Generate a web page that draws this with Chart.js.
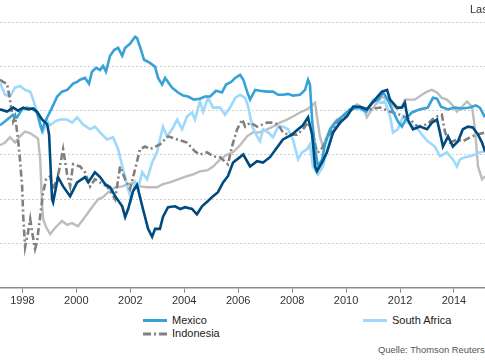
<!DOCTYPE html>
<html>
<head>
<meta charset="utf-8">
<script src="https://cdn.jsdelivr.net/npm/chart.js@4.4.1/dist/chart.umd.min.js"></script>
<style>
  html, body { margin: 0; padding: 0; background: #fff; overflow: hidden; width: 485px; height: 360px; }
  body { position: relative; font-family: "Liberation Sans", Arial, sans-serif; color: #333; }
  #wrap { position: absolute; left: 0; top: 0; width: 485px; height: 310px; }
  .txt { position: absolute; white-space: nowrap; }
  .legend-item { position: absolute; width: 110px; height: 13px; font-size: 11px; color: #222; line-height: 13px; white-space: nowrap; }
  .swatch { position: absolute; width: 24px; height: 0; border-top: 3px solid; }
</style>
</head>
<body>
<div id="wrap"><canvas id="chart"></canvas></div>

<div class="txt" style="left:470px; top:3px; font-size:11px; color:#333;">Las</div>

<div class="legend-item" style="left:143px; top:314px;">
  <span class="swatch" style="left:0; top:5px; border-color:#36a2d8;"></span>
  <span style="position:absolute; left:29px; top:0;">Mexico</span>
</div>
<div class="legend-item" style="left:143px; top:327px;">
  <canvas id="dashSwatch" width="24" height="4" style="position:absolute; left:0; top:5px;"></canvas>
  <span style="position:absolute; left:29px; top:0;">Indonesia</span>
</div>
<div class="legend-item" style="left:363px; top:314px;">
  <span class="swatch" style="left:0; top:5px; border-color:#9ed8fb;"></span>
  <span style="position:absolute; left:29px; top:0;">South Africa</span>
</div>

<div class="txt" style="left:378px; top:344px; font-size:9.4px; color:#555;">Quelle: Thomson Reuters</div>

<script>
// Real effective exchange rates (index), points as [decimal year, value]
const mexico = [
  [1997.17, 96.7], [1997.36, 97.6], [1997.66, 99.1], [1997.80, 98.5], [1997.99, 100.3],
  [1998.17, 100.7], [1998.40, 100.3], [1998.54, 99.6], [1998.73, 95.5], [1998.80, 96.9],
  [1998.92, 98.5], [1999.10, 100.7], [1999.29, 103.2], [1999.47, 104.3], [1999.66, 104.7],
  [1999.77, 105.4], [1999.88, 106.1], [2000.03, 106.5], [2000.14, 107.0], [2000.32, 107.4],
  [2000.47, 106.1], [2000.58, 108.8], [2000.73, 109.7], [2000.88, 109.2], [2000.99, 110.1],
  [2001.10, 108.8], [2001.25, 112.4], [2001.40, 113.7], [2001.55, 114.2], [2001.70, 112.4],
  [2001.81, 114.2], [2001.99, 115.1], [2002.18, 116.7], [2002.25, 116.4], [2002.40, 113.7],
  [2002.51, 111.5], [2002.73, 110.8], [2002.92, 109.9], [2003.03, 107.4], [2003.18, 105.9],
  [2003.29, 107.4], [2003.40, 106.5], [2003.55, 105.2], [2003.77, 104.1], [2003.96, 103.4],
  [2004.14, 103.2], [2004.36, 102.5], [2004.58, 102.7], [2004.77, 103.2], [2004.96, 103.2],
  [2005.18, 104.5], [2005.40, 104.1], [2005.55, 105.9], [2005.74, 106.5], [2005.89, 107.4],
  [2006.07, 108.1], [2006.19, 107.0], [2006.33, 104.3], [2006.44, 102.5], [2006.63, 104.7],
  [2006.81, 104.5], [2007.07, 104.3], [2007.29, 104.3], [2007.48, 103.6], [2007.66, 103.6],
  [2007.85, 103.8], [2008.03, 103.4], [2008.29, 103.6], [2008.48, 104.7], [2008.59, 107.0],
  [2008.66, 105.9], [2008.74, 98.0], [2008.85, 91.3], [2008.96, 87.4], [2009.11, 89.0],
  [2009.22, 92.4], [2009.40, 95.8], [2009.59, 97.3], [2009.85, 98.7], [2010.14, 100.3],
  [2010.51, 100.7], [2010.74, 99.8], [2010.96, 101.8], [2011.18, 102.5], [2011.37, 104.1],
  [2011.55, 102.5], [2011.74, 99.8], [2011.92, 97.6], [2012.07, 96.4], [2012.26, 98.5],
  [2012.44, 99.6], [2012.74, 100.3], [2013.03, 100.7], [2013.22, 102.9], [2013.37, 102.7],
  [2013.52, 100.9], [2013.78, 100.3], [2014.04, 100.7], [2014.30, 100.5], [2014.59, 100.7],
  [2014.81, 101.2], [2014.96, 100.7], [2015.15, 98.5]
];

const brazil = [
  [1997.17, 100.3], [1997.43, 99.8], [1997.66, 100.7], [1997.84, 100.0], [1998.03, 100.7],
  [1998.21, 100.3], [1998.40, 100.5], [1998.54, 99.8], [1998.73, 98.0], [1998.92, 96.9],
  [1998.99, 94.6], [1999.10, 80.0], [1999.14, 79.3], [1999.32, 85.0], [1999.51, 82.9],
  [1999.77, 80.7], [2000.03, 83.8], [2000.32, 85.0], [2000.44, 83.8], [2000.69, 86.1],
  [2000.88, 85.0], [2001.07, 83.4], [2001.25, 82.7], [2001.44, 80.7], [2001.70, 78.4],
  [2001.81, 76.0], [2001.92, 77.8], [2002.10, 81.8], [2002.25, 83.2], [2002.47, 77.8],
  [2002.66, 73.3], [2002.81, 71.5], [2002.92, 73.3], [2003.10, 73.3], [2003.21, 76.0],
  [2003.40, 78.2], [2003.66, 78.4], [2003.85, 77.8], [2004.03, 78.2], [2004.29, 77.8],
  [2004.47, 76.6], [2004.66, 78.4], [2004.88, 79.6], [2005.07, 80.7], [2005.25, 81.6],
  [2005.44, 83.8], [2005.62, 85.2], [2005.81, 88.3], [2005.96, 89.0], [2006.19, 90.1],
  [2006.44, 87.4], [2006.70, 88.6], [2006.92, 88.3], [2007.18, 89.5], [2007.44, 91.7],
  [2007.66, 93.5], [2007.99, 94.6], [2008.22, 95.8], [2008.40, 96.7], [2008.59, 98.5],
  [2008.74, 94.6], [2008.85, 87.4], [2008.92, 86.3], [2009.11, 88.3], [2009.29, 90.6],
  [2009.52, 95.1], [2009.78, 97.3], [2010.03, 98.7], [2010.26, 100.9], [2010.51, 100.9],
  [2010.77, 100.3], [2011.07, 102.5], [2011.33, 104.3], [2011.52, 104.7], [2011.63, 102.5],
  [2011.89, 100.7], [2012.07, 100.7], [2012.18, 101.8], [2012.29, 98.0], [2012.48, 95.8],
  [2012.74, 96.4], [2013.00, 95.8], [2013.18, 97.3], [2013.37, 98.0], [2013.48, 95.1],
  [2013.59, 91.9], [2013.78, 94.2], [2013.96, 91.9], [2014.15, 93.1], [2014.33, 95.8],
  [2014.52, 96.4], [2014.70, 96.2], [2014.89, 94.6], [2015.04, 92.8], [2015.15, 90.8]
];

const southAfrica = [
  [1997.17, 106.3], [1997.36, 103.6], [1997.54, 103.2], [1997.73, 105.2], [1997.91, 105.6],
  [1998.10, 104.7], [1998.29, 104.3], [1998.40, 102.5], [1998.54, 99.8], [1998.66, 96.4],
  [1998.77, 95.3], [1998.92, 97.8], [1999.03, 96.7], [1999.21, 97.6], [1999.40, 98.0],
  [1999.66, 98.0], [1999.84, 97.3], [2000.03, 98.5], [2000.25, 96.9], [2000.51, 95.8],
  [2000.69, 96.4], [2000.88, 95.1], [2001.14, 93.5], [2001.36, 94.0], [2001.55, 91.3],
  [2001.73, 86.8], [2001.92, 82.3], [2002.03, 80.0], [2002.18, 83.8], [2002.29, 82.3],
  [2002.44, 86.1], [2002.62, 84.5], [2002.81, 88.3], [2002.99, 90.6], [2003.21, 96.4],
  [2003.36, 94.2], [2003.55, 95.8], [2003.74, 98.0], [2003.92, 95.8], [2004.10, 98.7],
  [2004.29, 99.6], [2004.40, 98.0], [2004.58, 102.1], [2004.70, 99.8], [2004.88, 102.9],
  [2005.07, 100.7], [2005.33, 100.7], [2005.51, 99.1], [2005.70, 100.7], [2005.89, 102.9],
  [2006.07, 103.6], [2006.26, 102.9], [2006.37, 100.9], [2006.52, 96.4], [2006.70, 94.2],
  [2006.81, 93.1], [2006.92, 95.8], [2007.11, 95.1], [2007.29, 94.0], [2007.48, 96.4],
  [2007.66, 96.4], [2007.85, 95.8], [2008.03, 93.5], [2008.22, 89.0], [2008.37, 90.6],
  [2008.55, 91.3], [2008.66, 92.4], [2008.77, 87.4], [2008.96, 85.6], [2009.14, 87.4],
  [2009.33, 91.9], [2009.52, 95.8], [2009.78, 98.0], [2010.03, 98.7], [2010.26, 100.9],
  [2010.51, 100.3], [2010.77, 99.6], [2011.00, 102.5], [2011.26, 101.8], [2011.44, 102.1],
  [2011.63, 98.7], [2011.74, 95.1], [2011.92, 95.8], [2012.11, 98.7], [2012.29, 97.3],
  [2012.48, 96.4], [2012.66, 95.8], [2012.81, 94.6], [2013.03, 93.1], [2013.29, 91.9],
  [2013.48, 89.7], [2013.74, 90.6], [2013.96, 89.0], [2014.11, 87.4], [2014.22, 89.0],
  [2014.41, 89.5], [2014.59, 89.7], [2014.78, 90.1], [2014.96, 90.6], [2015.15, 90.8]
];

const indonesia = [
  [1997.17, 107.0], [1997.28, 106.5], [1997.43, 106.1], [1997.54, 102.5], [1997.62, 99.1],
  [1997.66, 97.6], [1997.73, 98.7], [1997.84, 93.5], [1997.91, 89.0], [1997.99, 82.9],
  [1998.03, 76.2], [1998.10, 69.2], [1998.21, 72.6], [1998.29, 75.5], [1998.36, 72.6],
  [1998.47, 68.8], [1998.54, 70.3], [1998.66, 76.2], [1998.77, 81.6], [1998.88, 84.5],
  [1999.03, 85.2], [1999.14, 82.3], [1999.32, 85.2], [1999.51, 91.3], [1999.66, 85.6],
  [1999.77, 82.9], [1999.88, 87.9], [2000.14, 87.4], [2000.32, 86.1], [2000.51, 82.9],
  [2000.69, 84.5], [2000.88, 83.8], [2001.14, 82.9], [2001.44, 80.0], [2001.62, 87.4],
  [2001.81, 84.5], [2001.99, 82.3], [2002.18, 86.8], [2002.36, 91.3], [2002.55, 91.9],
  [2002.73, 91.3], [2003.10, 92.4], [2003.40, 94.2], [2003.74, 93.5], [2004.10, 92.8],
  [2004.40, 90.8], [2004.58, 90.1], [2004.85, 90.6], [2005.07, 89.7], [2005.33, 89.5],
  [2005.62, 87.9], [2005.77, 91.9], [2005.96, 95.8], [2006.15, 98.0], [2006.26, 96.4],
  [2006.44, 97.3], [2006.70, 96.4], [2007.07, 97.3], [2007.29, 97.3], [2007.48, 96.9],
  [2007.66, 95.1], [2007.85, 94.6], [2008.18, 94.6], [2008.40, 95.8], [2008.59, 97.3],
  [2008.74, 95.8], [2008.92, 90.6], [2009.03, 90.8], [2009.14, 91.9], [2009.33, 94.2],
  [2009.59, 96.4], [2009.85, 98.5], [2010.07, 99.6], [2010.33, 100.9], [2010.59, 100.7],
  [2010.88, 100.3], [2011.26, 100.7], [2011.63, 99.8], [2012.00, 99.1], [2012.37, 98.0],
  [2012.66, 96.4], [2013.00, 96.9], [2013.29, 98.5], [2013.55, 99.1], [2013.67, 95.1],
  [2013.85, 92.8], [2014.11, 93.5], [2014.33, 93.1], [2014.59, 94.0], [2014.85, 94.6],
  [2015.15, 95.1]
];

const russia = [
  [1997.17, 92.2], [1997.36, 92.8], [1997.54, 94.0], [1997.73, 92.8], [1997.91, 94.2],
  [1998.10, 95.3], [1998.29, 94.9], [1998.47, 94.2], [1998.58, 93.7], [1998.66, 89.0],
  [1998.73, 78.9], [1998.77, 75.5], [1998.88, 73.7], [1999.03, 72.1], [1999.21, 73.5],
  [1999.47, 75.1], [1999.66, 74.2], [1999.84, 74.6], [2000.06, 73.9], [2000.32, 76.0],
  [2000.58, 78.2], [2000.81, 80.0], [2000.99, 80.5], [2001.18, 81.6], [2001.44, 82.7],
  [2001.70, 82.9], [2001.92, 83.4], [2002.18, 83.8], [2002.36, 82.9], [2002.62, 82.7],
  [2002.99, 82.7], [2003.21, 83.4], [2003.47, 83.8], [2003.77, 84.5], [2004.10, 85.2],
  [2004.33, 85.6], [2004.58, 86.3], [2004.85, 86.5], [2005.07, 87.4], [2005.33, 89.0],
  [2005.59, 90.1], [2005.81, 90.6], [2006.07, 92.2], [2006.33, 94.2], [2006.55, 95.1],
  [2006.81, 95.1], [2007.07, 95.8], [2007.29, 96.4], [2007.55, 97.3], [2007.81, 98.0],
  [2008.03, 98.7], [2008.29, 99.6], [2008.55, 100.3], [2008.74, 101.2], [2008.85, 101.8],
  [2008.92, 98.7], [2009.03, 94.2], [2009.14, 91.9], [2009.29, 94.2], [2009.48, 96.4],
  [2009.66, 98.0], [2009.89, 98.5], [2010.14, 100.3], [2010.40, 101.4], [2010.63, 100.7],
  [2010.77, 98.5], [2010.96, 100.3], [2011.15, 101.8], [2011.33, 103.2], [2011.52, 102.5],
  [2011.70, 101.4], [2011.89, 100.3], [2012.07, 100.9], [2012.18, 102.5], [2012.55, 102.5],
  [2012.81, 103.6], [2013.00, 104.3], [2013.18, 104.7], [2013.37, 104.1], [2013.55, 102.9],
  [2013.74, 102.5], [2013.92, 101.4], [2014.11, 99.8], [2014.30, 100.9], [2014.48, 102.1],
  [2014.67, 100.9], [2014.78, 95.8], [2014.89, 87.4], [2015.04, 84.5], [2015.15, 85.2]
];

const yearTicks = [1998, 2000, 2002, 2004, 2006, 2008, 2010, 2012, 2014];
const valueTicks = [60, 70, 80, 90, 100, 110, 120];

const toPoints = arr => arr.map(p => ({ x: p[0], y: p[1] }));

// legend sample for the dash-dot series
(function () {
  const c = document.getElementById('dashSwatch').getContext('2d');
  c.strokeStyle = '#808080';
  c.lineWidth = 3;
  c.setLineDash([8, 3, 2, 3]);
  c.beginPath();
  c.moveTo(0, 2);
  c.lineTo(24, 2);
  c.stroke();
})();

function line(label, data, color, width, order, dash) {
  return {
    label: label,
    data: toPoints(data),
    borderColor: color,
    backgroundColor: color,
    borderWidth: width,
    borderDash: dash || [],
    pointRadius: 0,
    tension: 0,
    fill: false,
    order: order
  };
}

new Chart(document.getElementById('chart'), {
  type: 'line',
  data: {
    datasets: [
      line('Brazil', brazil, '#004a7f', 2.6, 1),
      line('Mexico', mexico, '#36a2d8', 2.6, 2),
      line('Indonesia', indonesia, '#808080', 2.6, 3, [7, 3, 2, 3]),
      line('South Africa', southAfrica, '#9ed8fb', 2.6, 4),
      line('Russia', russia, '#bdbdbd', 2.4, 5)
    ]
  },
  options: {
    responsive: true,
    maintainAspectRatio: false,
    animation: false,
    layout: { padding: 0 },
    plugins: {
      legend: { display: false },
      tooltip: { enabled: false }
    },
    scales: {
      x: {
        type: 'linear',
        min: 1997.17,
        max: 2015.15,
        afterBuildTicks: axis => { axis.ticks = yearTicks.map(v => ({ value: v })); },
        grid: { display: true, drawOnChartArea: false, drawTicks: true, tickLength: 5, color: '#8c8c8c' },
        border: { display: true, color: '#8c8c8c', width: 1.5 },
        ticks: {
          padding: 2,
          color: '#333',
          font: { family: "'Liberation Sans', Arial, sans-serif", size: 11 },
          callback: v => String(v),
          maxRotation: 0
        }
      },
      y: {
        min: 60,
        max: 125,
        afterBuildTicks: axis => { axis.ticks = valueTicks.map(v => ({ value: v })); },
        grid: { color: '#cfcfcf', lineWidth: 1, drawTicks: false, tickLength: 0 },
        border: { display: false, dash: [2, 2] },
        ticks: { display: false }
      }
    }
  }
});
</script>
</body>
</html>
